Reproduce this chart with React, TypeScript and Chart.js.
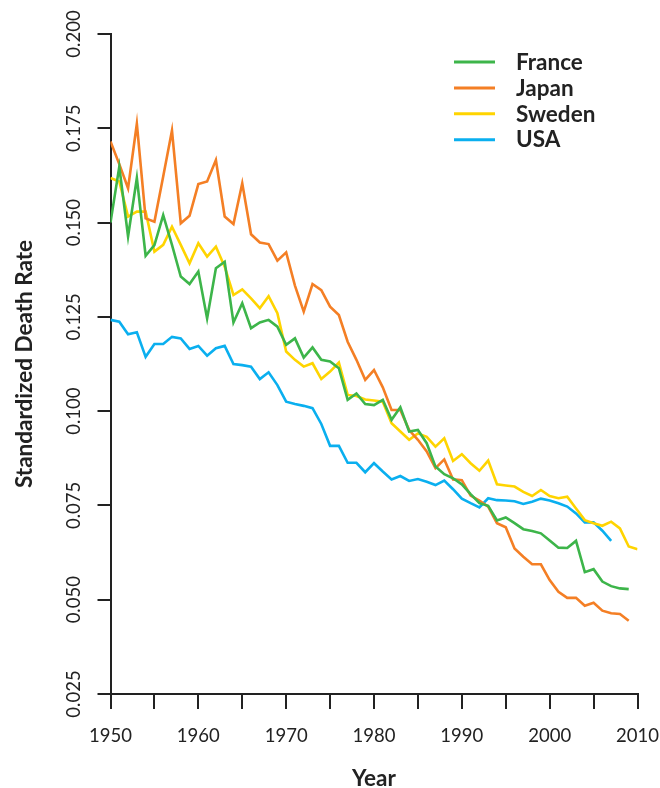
import React, { useEffect, useRef } from "react";
import { Chart, registerables } from "chart.js";

Chart.register(...registerables);

const years = [
  1950, 1951, 1952, 1953, 1954, 1955, 1956, 1957, 1958, 1959,
  1960, 1961, 1962, 1963, 1964, 1965, 1966, 1967, 1968, 1969,
  1970, 1971, 1972, 1973, 1974, 1975, 1976, 1977, 1978, 1979,
  1980, 1981, 1982, 1983, 1984, 1985, 1986, 1987, 1988, 1989,
  1990, 1991, 1992, 1993, 1994, 1995, 1996, 1997, 1998, 1999,
  2000, 2001, 2002, 2003, 2004, 2005, 2006, 2007, 2008, 2009,
  2010,
];

const france = [
  0.1500, 0.1648, 0.1463, 0.1618, 0.1412, 0.1440, 0.1520, 0.1441, 0.1357, 0.1337,
  0.1370, 0.1246, 0.1379, 0.1396, 0.1235, 0.1286, 0.1220, 0.1235, 0.1242, 0.1224,
  0.1176, 0.1193, 0.1142, 0.1169, 0.1136, 0.1132, 0.1114, 0.1030, 0.1047, 0.1019,
  0.1016, 0.1030, 0.0977, 0.1010, 0.0946, 0.0950, 0.0915, 0.0853, 0.0833, 0.0822,
  0.0806, 0.0780, 0.0756, 0.0749, 0.0710, 0.0718, 0.0703, 0.0687, 0.0682, 0.0676,
  0.0657, 0.0638, 0.0637, 0.0656, 0.0573, 0.0581, 0.0548, 0.0536, 0.0530, 0.0528,
];

const japan = [
  0.1715, 0.1655, 0.1591, 0.1762, 0.1511, 0.1502, 0.1622, 0.1744, 0.1498, 0.1518,
  0.1602, 0.1609, 0.1666, 0.1516, 0.1496, 0.1604, 0.1469, 0.1447, 0.1443, 0.1399,
  0.1421, 0.1333, 0.1264, 0.1337, 0.1321, 0.1277, 0.1255, 0.1184, 0.1136, 0.1083,
  0.1109, 0.1063, 0.1003, 0.1003, 0.0950, 0.0924, 0.0893, 0.0849, 0.0872, 0.0819,
  0.0817, 0.0776, 0.0763, 0.0747, 0.0703, 0.0692, 0.0636, 0.0614, 0.0594, 0.0594,
  0.0552, 0.0521, 0.0505, 0.0505, 0.0484, 0.0492, 0.0471, 0.0464, 0.0462, 0.0444,
];

const sweden = [
  0.1618, 0.1609, 0.1516, 0.1529, 0.1529, 0.1423, 0.1441, 0.1489, 0.1441, 0.1392,
  0.1445, 0.1410, 0.1436, 0.1383, 0.1308, 0.1323, 0.1299, 0.1273, 0.1305, 0.1260,
  0.1158, 0.1136, 0.1118, 0.1127, 0.1085, 0.1105, 0.1129, 0.1043, 0.1040, 0.1031,
  0.1028, 0.1025, 0.0968, 0.0946, 0.0924, 0.0941, 0.0932, 0.0906, 0.0928, 0.0868,
  0.0886, 0.0862, 0.0842, 0.0869, 0.0806, 0.0803, 0.0800, 0.0786, 0.0775, 0.0791,
  0.0775, 0.0769, 0.0773, 0.0742, 0.0711, 0.0703, 0.0696, 0.0707, 0.0689, 0.0641,
  0.0634,
];

const usa = [
  0.1242, 0.1237, 0.1204, 0.1209, 0.1144, 0.1178, 0.1178, 0.1197, 0.1193, 0.1165,
  0.1173, 0.1147, 0.1167, 0.1173, 0.1125, 0.1122, 0.1118, 0.1085, 0.1103, 0.1069,
  0.1025, 0.1019, 0.1014, 0.1008, 0.0966, 0.0908, 0.0908, 0.0863, 0.0863, 0.0838,
  0.0862, 0.0840, 0.0819, 0.0828, 0.0815, 0.0820, 0.0813, 0.0804, 0.0816, 0.0793,
  0.0768, 0.0756, 0.0745, 0.0769, 0.0764, 0.0763, 0.0761, 0.0754, 0.0760, 0.0768,
  0.0763, 0.0756, 0.0747, 0.0729, 0.0705, 0.0705, 0.0683, 0.0656,
];

const seriesNames = ["France", "Japan", "Sweden", "USA"];
const seriesColors = ["#3DB54A", "#F47F25", "#FFD400", "#0AAFEF"];
const seriesValues = [france, japan, sweden, usa];

const xTitle = "Year";
const yTitle = "Standardized Death Rate";

const FONT = "Lato, 'Open Sans', 'DejaVu Sans', sans-serif";
const INK = "#222222";

const legendPlugin = {
  id: "customLegend",
  afterDraw(chart: any) {
    const ctx = chart.ctx;
    ctx.save();
    chart.data.datasets.forEach((ds: any, i: number) => {
      const y = 62 + i * 25.9;
      ctx.strokeStyle = ds.borderColor;
      ctx.lineWidth = 3;
      ctx.beginPath();
      ctx.moveTo(454, y);
      ctx.lineTo(495, y);
      ctx.stroke();
      ctx.fillStyle = INK;
      ctx.font = `bold 22.5px ${FONT}`;
      ctx.textAlign = "left";
      ctx.textBaseline = "middle";
      ctx.fillText(ds.label, 516, y + 0.5);
    });
    ctx.restore();
  },
};

export default function App() {
  const canvasRef = useRef<HTMLCanvasElement | null>(null);

  useEffect(() => {
    if (!canvasRef.current) return;
    const chart = new Chart(canvasRef.current, {
      type: "line",
      data: {
        datasets: seriesValues.map((vals, i) => ({
          label: seriesNames[i],
          data: vals.map((v, j) => ({ x: years[j], y: v })),
          borderColor: seriesColors[i],
          backgroundColor: seriesColors[i],
          borderWidth: 2.6,
          pointRadius: 0,
          tension: 0,
          fill: false,
        })),
      },
      options: {
        responsive: false,
        animation: false,
        layout: { padding: { top: 34, right: 22.5, left: 0, bottom: 0 } },
        plugins: {
          legend: { display: false },
          tooltip: { enabled: false },
        },
        scales: {
          x: {
            type: "linear",
            min: 1950,
            max: 2010,
            afterFit: (s: any) => {
              s.height = 94;
              s.paddingLeft = 0;
              s.paddingRight = 0;
              s.paddingTop = 0;
              s.paddingBottom = 0;
            },
            grid: {
              display: true,
              drawOnChartArea: false,
              drawTicks: true,
              tickLength: 15,
              color: INK,
              lineWidth: 2,
            },
            border: { display: true, color: INK, width: 2 },
            ticks: {
              stepSize: 5,
              autoSkip: false,
              maxRotation: 0,
              minRotation: 0,
              padding: 16,
              color: INK,
              font: { family: FONT, size: 18.5 },
              callback: (v: any) => (Number(v) % 10 === 0 ? String(v) : ""),
            },
            title: {
              display: true,
              text: xTitle,
              color: INK,
              font: { family: FONT, size: 22.5, weight: "bold", lineHeight: 0.8 },
              padding: { top: 0, bottom: 0 },
            },
          },
          y: {
            type: "linear",
            min: 0.025,
            max: 0.2,
            afterFit: (s: any) => {
              s.width = 110.5;
              s.paddingLeft = 0;
              s.paddingRight = 0;
              s.paddingTop = 0;
              s.paddingBottom = 0;
            },
            grid: {
              display: true,
              drawOnChartArea: false,
              drawTicks: true,
              tickLength: 13,
              color: INK,
              lineWidth: 2,
            },
            border: { display: true, color: INK, width: 2 },
            ticks: {
              stepSize: 0.025,
              minRotation: 90,
              maxRotation: 90,
              crossAlign: "center",
              padding: 0,
              color: INK,
              font: { family: FONT, size: 18.5 },
              callback: (v: any) => Number(v).toFixed(3),
            },
            title: {
              display: true,
              text: yTitle,
              color: INK,
              font: { family: FONT, size: 22.5, weight: "bold", lineHeight: 0.8 },
              padding: { top: 16, bottom: 0 },
            },
          },
        },
      },
      plugins: [legendPlugin],
    } as any);
    return () => chart.destroy();
  }, []);

  return (
    <div style={{ position: "absolute", left: 0, top: 0, width: 660, height: 788, background: "#fff" }}>
      <canvas ref={canvasRef} width={660} height={788} style={{ width: 660, height: 788, display: "block" }} />
    </div>
  );
}
